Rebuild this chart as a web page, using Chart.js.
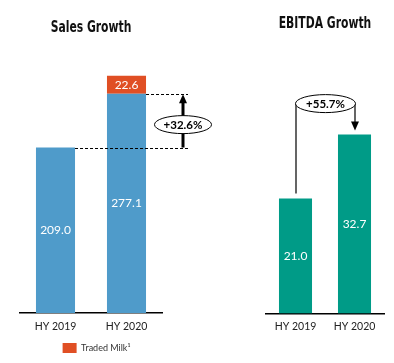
<!DOCTYPE html>
<html>
<head>
<meta charset="utf-8">
<script src="https://cdn.jsdelivr.net/npm/chart.js@4"></script>
<style>
  body { margin: 0; background: #fff; }
  #wrap { position: relative; width: 394px; height: 363px; }
  .box { position: absolute; top: 0; height: 363px; }
</style>
</head>
<body>
<div id="wrap">
  <div class="box" style="left:0;width:220px"><canvas id="salesChart" width="220" height="363"></canvas></div>
  <div class="box" style="left:194px;width:200px"><canvas id="ebitdaChart" width="200" height="363"></canvas></div>
</div>
<script>
// data
const periods = ["HY 2019", "HY 2020"];
const salesCore = [209.0, 277.1];
const salesTradedMilk = [null, 22.6];
const ebitda = [21.0, 32.7];
const salesGrowth = "+32.6%";
const ebitdaGrowth = "+55.7%";

const BLUE = "#4f9bca";
const ORANGE = "#e04f24";
const TEAL = "#009b87";
const BODY_FONT = "Lato, 'Open Sans', sans-serif";

// the heading font in the original is a narrow bold face, so squeeze DejaVu Sans Bold
const squeezedTitle = {
  id: 'squeezedTitle',
  afterDraw(chart, args, opts) {
    const ctx = chart.ctx;
    const a = chart.chartArea;
    ctx.save();
    ctx.translate((a.left + a.right) / 2, opts.y);
    ctx.scale(0.72, 1);
    ctx.fillStyle = "#111";
    ctx.font = "bold 15px 'DejaVu Sans', sans-serif";
    ctx.textAlign = "center";
    ctx.textBaseline = "middle";
    ctx.fillText(opts.text, 0, 0);
    ctx.restore();
  }
};

// white value text in the middle of each bar segment
const barLabels = {
  id: 'barLabels',
  afterDatasetsDraw(chart) {
    const ctx = chart.ctx;
    chart.data.datasets.forEach((ds, i) => {
      const meta = chart.getDatasetMeta(i);
      meta.data.forEach((bar, j) => {
        const v = ds.data[j];
        if (v == null) return;
        ctx.save();
        ctx.fillStyle = "#fff";
        ctx.font = "12px " + BODY_FONT;
        ctx.textAlign = "center";
        ctx.textBaseline = "middle";
        ctx.fillText(v.toFixed(1), bar.x, (bar.y + bar.base) / 2);
        ctx.restore();
      });
    });
  }
};

function drawEllipseLabel(ctx, cx, cy, rx, ry, text) {
  ctx.save();
  ctx.beginPath();
  ctx.ellipse(cx, cy, rx, ry, 0, 0, Math.PI * 2);
  ctx.fillStyle = "#fff";
  ctx.fill();
  ctx.lineWidth = 1;
  ctx.strokeStyle = "#000";
  ctx.stroke();
  ctx.fillStyle = "#000";
  ctx.font = "bold 11.5px " + BODY_FONT;
  ctx.textAlign = "center";
  ctx.textBaseline = "middle";
  ctx.fillText(text, cx, cy + 0.5);
  ctx.restore();
}

function arrowHead(ctx, x, tipY, dir, half, len) {
  ctx.beginPath();
  ctx.moveTo(x, tipY);
  ctx.lineTo(x - half, tipY + dir * len);
  ctx.lineTo(x + half, tipY + dir * len);
  ctx.closePath();
  ctx.fill();
}

// dashed guides + up arrow for sales
const salesAnnotation = {
  id: 'salesAnnotation',
  afterDraw(chart) {
    const ctx = chart.ctx;
    const meta = chart.getDatasetMeta(0);
    const b1 = meta.data[0], b2 = meta.data[1];
    const xEnd = chart.chartArea.right + 26;
    const ax = xEnd - 5;
    ctx.save();
    ctx.strokeStyle = "#000";
    ctx.lineWidth = 1;
    ctx.setLineDash([3, 2]);
    ctx.beginPath();
    ctx.moveTo(b1.x + b1.width / 2, Math.round(b1.y) + 0.5);
    ctx.lineTo(xEnd, Math.round(b1.y) + 0.5);
    ctx.moveTo(b2.x + b2.width / 2, Math.round(b2.y) + 0.5);
    ctx.lineTo(xEnd, Math.round(b2.y) + 0.5);
    ctx.stroke();
    ctx.setLineDash([]);
    ctx.lineWidth = 3;
    ctx.beginPath();
    ctx.moveTo(ax, b1.y);
    ctx.lineTo(ax, b2.y + 8);
    ctx.stroke();
    ctx.fillStyle = "#000";
    arrowHead(ctx, ax, b2.y + 0.5, 1, 4, 9);
    ctx.restore();
    drawEllipseLabel(ctx, ax, (b1.y + b2.y) / 2 + 4, 28.5, 9, salesGrowth);
  }
};

// cylinder-like bracket + down arrow for EBITDA
const ebitdaAnnotation = {
  id: 'ebitdaAnnotation',
  afterDraw(chart) {
    const ctx = chart.ctx;
    const meta = chart.getDatasetMeta(0);
    const b1 = meta.data[0], b2 = meta.data[1];
    const x1 = b1.x + 0.5, x2 = b2.x + 0.5;
    const cy = b2.y - 31;
    ctx.save();
    ctx.strokeStyle = "#000";
    ctx.fillStyle = "#000";
    ctx.lineWidth = 1.2;
    ctx.beginPath();
    ctx.moveTo(x1, cy);
    ctx.lineTo(x1, b1.y - 5);
    ctx.moveTo(x2, cy);
    ctx.lineTo(x2, b2.y - 12);
    ctx.stroke();
    arrowHead(ctx, x2, b2.y - 4, -1, 4, 9);
    ctx.restore();
    drawEllipseLabel(ctx, (x1 + x2) / 2, cy, (x2 - x1) / 2 + 0.5, 9, ebitdaGrowth);
  }
};

function xAxis() {
  return {
    stacked: true,
    grid: { display: false, drawTicks: false },
    border: { display: true, color: "#000", width: 1.5 },
    ticks: { color: "#222", padding: 7, font: { family: BODY_FONT, size: 10.5 } }
  };
}

new Chart(document.getElementById("salesChart"), {
  type: 'bar',
  data: {
    labels: periods,
    datasets: [
      { label: "Sales", data: salesCore, backgroundColor: BLUE, barPercentage: 0.55, categoryPercentage: 1 },
      { label: "Traded Milk\u00b9", data: salesTradedMilk, backgroundColor: ORANGE, barPercentage: 0.55, categoryPercentage: 1 }
    ]
  },
  options: {
    responsive: false,
    animation: false,
    layout: { padding: { left: 20, right: 47, top: 36, bottom: 0 } },
    scales: {
      x: xAxis(),
      // invisible right axis, only there to push the legend a little to the right
      y: {
        stacked: true, position: 'right', min: 0, max: 350,
        grid: { display: false }, border: { display: false }, ticks: { display: false },
        afterFit(s) { s.width = 11; }
      }
    },
    plugins: {
      title: { display: false },
      squeezedTitle: { text: "Sales Growth", y: 28 },
      legend: {
        display: true, position: 'bottom',
        labels: {
          filter: item => item.datasetIndex === 1,
          boxWidth: 14, boxHeight: 10, padding: 3.5, color: "#333",
          font: { family: BODY_FONT, size: 9 }
        }
      },
      tooltip: { enabled: false }
    }
  },
  plugins: [barLabels, salesAnnotation, squeezedTitle]
});

new Chart(document.getElementById("ebitdaChart"), {
  type: 'bar',
  data: {
    labels: periods,
    datasets: [
      { label: "EBITDA", data: ebitda, backgroundColor: TEAL, barPercentage: 0.56, categoryPercentage: 1 }
    ]
  },
  options: {
    responsive: false,
    animation: false,
    layout: { padding: { left: 72, right: 10, top: 40, bottom: 23 } },
    scales: {
      x: xAxis(),
      y: { display: false, min: 0, max: 50 }
    },
    plugins: {
      title: { display: false },
      squeezedTitle: { text: "EBITDA Growth", y: 24 },
      legend: { display: false },
      tooltip: { enabled: false }
    }
  },
  plugins: [barLabels, ebitdaAnnotation, squeezedTitle]
});
</script>
</body>
</html>
